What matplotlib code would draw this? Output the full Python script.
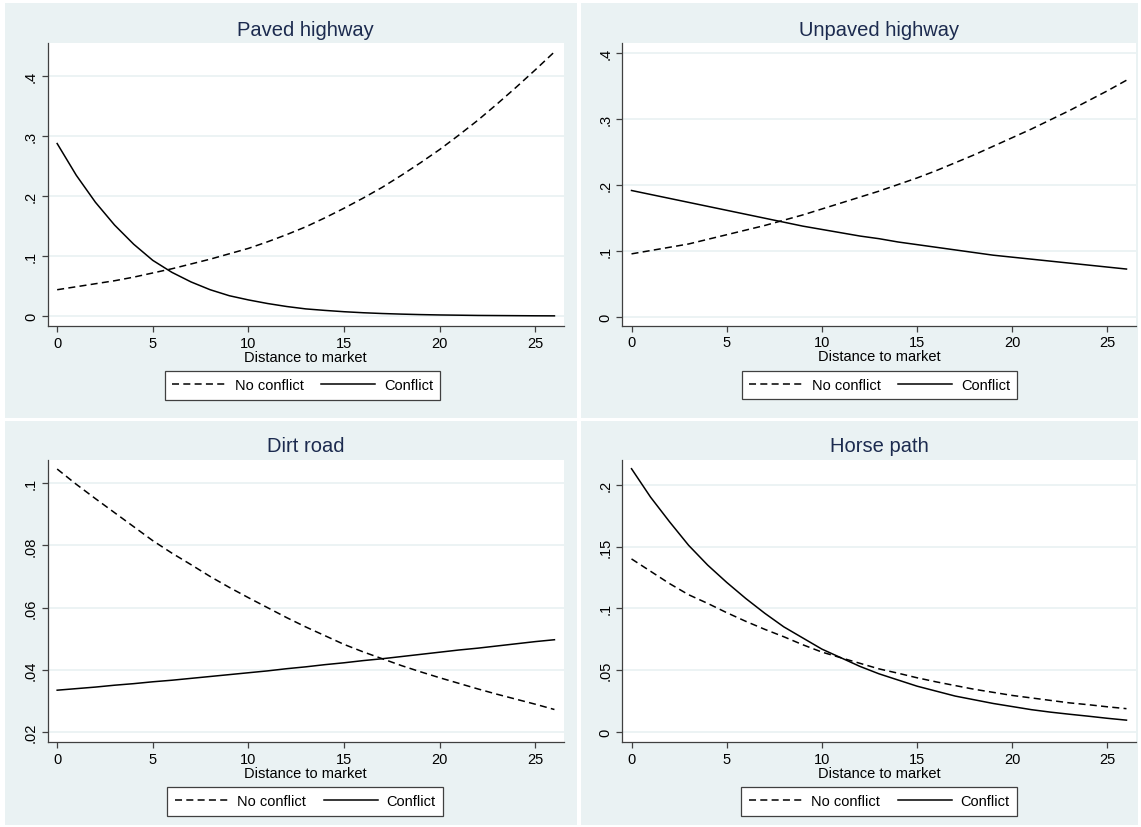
import matplotlib
matplotlib.use("Agg")
import matplotlib.pyplot as plt
from matplotlib.patches import Rectangle
from matplotlib.lines import Line2D

plt.rcParams['font.family'] = ['Liberation Sans', 'DejaVu Sans']

# Distance to market (x values shared by all panels)
distance = [0, 1, 2, 3, 4, 5, 6, 7, 8, 9, 10, 11, 12, 13,
            14, 15, 16, 17, 18, 19, 20, 21, 22, 23, 24, 25, 26]

# Paved highway
paved_noconf = [0.044, 0.049, 0.054, 0.059, 0.065, 0.072, 0.079, 0.087, 0.095,
                0.104, 0.113, 0.124, 0.136, 0.149, 0.164, 0.180, 0.197, 0.215,
                0.235, 0.256, 0.278, 0.302, 0.327, 0.354, 0.382, 0.411, 0.441]
paved_conf = [0.288, 0.235, 0.190, 0.152, 0.120, 0.093, 0.073, 0.057, 0.044,
              0.034, 0.027, 0.021, 0.016, 0.012, 0.0095, 0.0073, 0.0056, 0.0043,
              0.0033, 0.0025, 0.0019, 0.0015, 0.0011, 0.0009, 0.0007, 0.0005, 0.0004]

# Unpaved highway
unpaved_noconf = [0.095, 0.100, 0.105, 0.110, 0.117, 0.124, 0.131, 0.138, 0.146,
                  0.154, 0.163, 0.172, 0.181, 0.190, 0.200, 0.210, 0.221, 0.233,
                  0.245, 0.258, 0.271, 0.284, 0.298, 0.312, 0.327, 0.342, 0.358]
unpaved_conf = [0.191, 0.185, 0.179, 0.173, 0.167, 0.161, 0.155, 0.149, 0.143,
                0.137, 0.132, 0.127, 0.122, 0.118, 0.113, 0.109, 0.105, 0.101,
                0.097, 0.093, 0.090, 0.087, 0.084, 0.081, 0.078, 0.075, 0.072]

# Dirt road
dirt_noconf = [0.1045, 0.0996, 0.0950, 0.0905, 0.0860, 0.0815, 0.0775, 0.0738, 0.0700,
               0.0665, 0.0632, 0.0600, 0.0568, 0.0538, 0.0510, 0.0482, 0.0458, 0.0436,
               0.0414, 0.0394, 0.0375, 0.0357, 0.0339, 0.0322, 0.0306, 0.0290, 0.0273]
dirt_conf = [0.0335, 0.0340, 0.0345, 0.0351, 0.0356, 0.0362, 0.0367, 0.0373, 0.0379,
             0.0385, 0.0391, 0.0397, 0.0404, 0.0410, 0.0417, 0.0423, 0.0430, 0.0436,
             0.0443, 0.0450, 0.0457, 0.0464, 0.0470, 0.0477, 0.0484, 0.0491, 0.0497]

# Horse path
horse_noconf = [0.140, 0.130, 0.120, 0.111, 0.104, 0.0965, 0.0895, 0.083, 0.077,
                0.0705, 0.0646, 0.060, 0.0555, 0.051, 0.0475, 0.0438, 0.0405, 0.0375,
                0.0345, 0.032, 0.0295, 0.0275, 0.0255, 0.0235, 0.022, 0.0203, 0.0188]
horse_conf = [0.213, 0.190, 0.170, 0.151, 0.135, 0.121, 0.108, 0.096, 0.085,
              0.076, 0.067, 0.060, 0.053, 0.047, 0.042, 0.037, 0.033, 0.029,
              0.026, 0.023, 0.0205, 0.018, 0.016, 0.0143, 0.0127, 0.0110, 0.0095]

titles = ['Paved highway', 'Unpaved highway', 'Dirt road', 'Horse path']
series = [(paved_noconf, paved_conf), (unpaved_noconf, unpaved_conf),
          (dirt_noconf, dirt_conf), (horse_noconf, horse_conf)]
yticks = [[0, 0.1, 0.2, 0.3, 0.4], [0, 0.1, 0.2, 0.3, 0.4],
          [0.02, 0.04, 0.06, 0.08, 0.1], [0, 0.05, 0.1, 0.15, 0.2]]
ytick_labels = [['0', '.1', '.2', '.3', '.4'], ['0', '.1', '.2', '.3', '.4'],
                ['.02', '.04', '.06', '.08', '.1'], ['0', '.05', '.1', '.15', '.2']]
xticks = [0, 5, 10, 15, 20, 25]
legend_labels = ['No conflict', 'Conflict']

W, H = 1141, 828
BG = '#EAF2F3'
AXC = '#404040'
TITLEC = '#1c2b4f'

# layout in pixels
panels = [(5, 4, 577, 419), (581, 4, 1138, 419), (5, 422, 577, 826), (581, 422, 1138, 826)]
plots = [(47.6, 44, 564, 326.8), (622, 44, 1136, 326.5),
         (47.6, 460.7, 564, 742.9), (622, 460.7, 1136, 742.9)]
ylims = [(-0.0162, 0.4558), (-0.0135, 0.4144), (0.0169, 0.1075), (-0.0081, 0.2203)]
legend_x = [302.5, 879.5, 305, 879]


def fx(x):
    return x / W


def fy(y):
    return 1 - y / H


fig = plt.figure(figsize=(W / 100, H / 100), dpi=100)
fig.patch.set_facecolor('white')

# grey-blue panel backgrounds
for (x0, y0, x1, y1) in panels:
    fig.patches.append(Rectangle((fx(x0), fy(y1)), (x1 - x0) / W, (y1 - y0) / H,
                                 transform=fig.transFigure, facecolor=BG,
                                 edgecolor='none', zorder=-5))

for i in range(4):
    x0, y0, x1, y1 = plots[i]
    ax = fig.add_axes([fx(x0), fy(y1), (x1 - x0) / W, (y1 - y0) / H])
    ax.set_facecolor('white')
    noconf, conf = series[i]
    ax.plot(distance, noconf, color='black', lw=1.1, linestyle=(0, (4.6, 2.8)), zorder=3)
    ax.plot(distance, conf, color='black', lw=1.1, zorder=3)

    ax.set_xlim(-0.5, 26.5)
    ax.set_ylim(*ylims[i])
    ax.set_xticks(xticks)
    ax.set_xticklabels([str(t) for t in xticks])
    ax.set_yticks(yticks[i])
    ax.set_yticklabels(ytick_labels[i], rotation=90, va='center')
    ax.yaxis.grid(True, color=BG, lw=1.3)
    ax.set_axisbelow(True)
    for s in ['top', 'right']:
        ax.spines[s].set_visible(False)
    for s in ['left', 'bottom']:
        ax.spines[s].set_color(AXC)
        ax.spines[s].set_linewidth(0.9)
    ax.tick_params(axis='both', colors=AXC, length=4, width=0.9, labelsize=10.5,
                   labelcolor='black', pad=3)

    cx = (x0 + x1) / 2
    fig.text(fx(cx), fy(y0 - 14), titles[i], ha='center', va='center',
             fontsize=14.5, color=TITLEC)
    ax.annotate('Distance to market', xy=(0.5, 0), xycoords='axes fraction',
                xytext=(0, -31), textcoords='offset pixels', ha='center',
                va='center', fontsize=10.5)

    handles = [Line2D([], [], color='black', lw=1.1, linestyle=(0, (4.6, 2.8))),
               Line2D([], [], color='black', lw=1.1)]
    ly = y1 + 59.5
    leg = ax.legend(handles, legend_labels, ncol=2, loc='center',
                    bbox_to_anchor=(fx(legend_x[i]), fy(ly)), bbox_transform=fig.transFigure,
                    frameon=True, fancybox=False, framealpha=1, edgecolor=AXC,
                    fontsize=10.5, handlelength=3.7, handletextpad=0.6,
                    columnspacing=1.2, borderpad=0.5, borderaxespad=0)
    leg.get_frame().set_linewidth(0.9)

fig.savefig('out.png', dpi=100, facecolor='white')
